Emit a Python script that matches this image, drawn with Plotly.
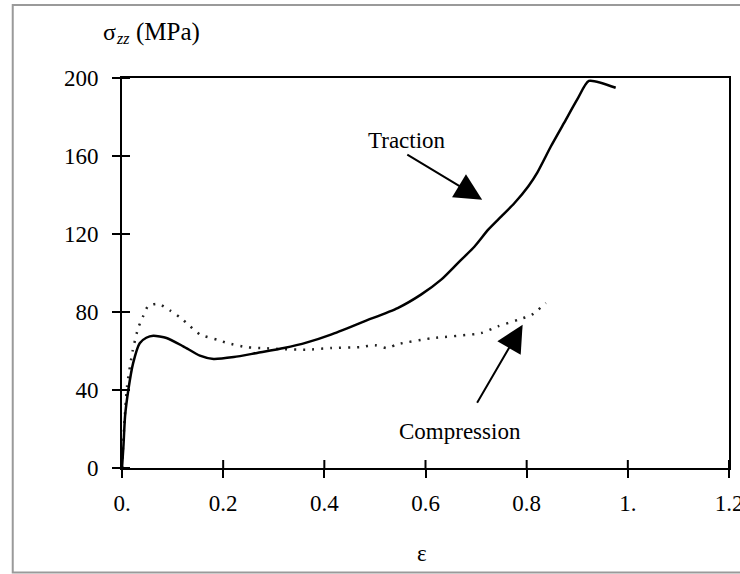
import plotly.graph_objects as go

# Traction (solid) curve
eps_traction = [0, 0.003, 0.006, 0.0125, 0.022, 0.035, 0.048, 0.062, 0.088, 0.121, 0.154,
                0.181, 0.221, 0.267, 0.320, 0.366, 0.413, 0.479, 0.545, 0.591, 0.631,
                0.664, 0.697, 0.724, 0.750, 0.776, 0.803, 0.821, 0.848, 0.874, 0.900,
                0.923, 0.976]
sig_traction = [0, 12, 26.5, 40, 53.8, 64, 66.8, 67.8, 66.7, 62.4, 57.6,
                55.9, 56.9, 59, 61.5, 64.4, 68.4, 75.2, 82, 88.9, 96.6,
                105.1, 113.6, 122.2, 129, 135.9, 144.4, 151.5, 165, 177, 189,
                198.5, 195]

# Compression (dotted) curve
eps_compression = [0, 0.004, 0.010, 0.021, 0.032, 0.042, 0.052, 0.072, 0.095, 0.115, 0.135,
                   0.155, 0.188, 0.208, 0.247, 0.280, 0.313, 0.366, 0.413, 0.472, 0.500,
                   0.524, 0.545, 0.611, 0.710, 0.743, 0.783, 0.810, 0.838]
sig_compression = [0, 20, 42, 60, 71.8, 78, 83.2, 84.2, 80.8, 77.2, 72.6,
                   68.4, 65.8, 64.1, 61.9, 61.5, 61, 60.7, 61.5, 62, 63,
                   61.5, 63.5, 66.5, 69.2, 72.6, 76, 78.6, 84.6]

x_ticks = [0, 0.2, 0.4, 0.6, 0.8, 1.0, 1.2]
x_ticklabels = ["0.", "0.2", "0.4", "0.6", "0.8", "1.", "1.2"]
y_ticks = [0, 40, 80, 120, 160, 200]
y_ticklabels = ["0", "40", "80", "120", "160", "200"]

FONT = "Liberation Serif, Times New Roman, serif"
FS = 23
TICKLEN = 8

fig = go.Figure()
fig.add_trace(go.Scatter(x=eps_compression, y=sig_compression, mode="lines",
                         line=dict(color="#222", width=2.5, dash="2px,7px",
                                   shape="spline", smoothing=0.6),
                         name="Compression", showlegend=False))
fig.add_trace(go.Scatter(x=eps_traction, y=sig_traction, mode="lines",
                         line=dict(color="black", width=2.5,
                                   shape="spline", smoothing=0.6),
                         name="Traction", showlegend=False))

axis_common = dict(showgrid=False, zeroline=False, linecolor="black", linewidth=2,
                   tickcolor="black", tickwidth=2, automargin=False,
                   ticklabeloverflow="allow",
                   tickfont=dict(family=FONT, size=FS, color="black"))

# inner half of the crossing tick marks (outer half drawn by the axes)
inner_ticks = (
    [dict(type="line", xref="x", yref="y", ysizemode="pixel", yanchor=0,
          x0=v, x1=v, y0=0, y1=TICKLEN, line=dict(color="black", width=2))
     for v in x_ticks]
    + [dict(type="line", xref="x", yref="y", xsizemode="pixel", xanchor=0,
            x0=0, x1=TICKLEN, y0=v, y1=v, line=dict(color="black", width=2))
       for v in y_ticks]
)

frame = dict(type="rect", xref="paper", yref="paper",
             x0=-0.180, x1=1.12, y0=-0.268, y1=1.187,
             line=dict(color="#9a9a9a", width=2), layer="below")

fig.update_layout(
    width=740, height=574,
    margin=dict(l=122, r=11, t=78, b=106),
    paper_bgcolor="white", plot_bgcolor="white",
    xaxis=dict(range=[0, 1.2], tickvals=x_ticks, ticktext=x_ticklabels,
               ticks="outside", ticklen=TICKLEN, showline=True, mirror=True,
               ticklabelstandoff=5, **axis_common),
    yaxis=dict(range=[0, 200], tickvals=y_ticks, ticktext=y_ticklabels,
               ticks="outside", ticklen=TICKLEN, showline=True, mirror=True,
               ticklabelstandoff=9, **axis_common),
    shapes=[frame] + inner_ticks,
)

annotations = [
    # y-axis title: sigma, italic subscript zz, unit
    dict(text="σ", xref="paper", yref="paper", x=-0.0203, y=1.1167,
         xanchor="center", yanchor="middle", showarrow=False,
         font=dict(family=FONT, size=24, color="black")),
    dict(text="<i>zz</i>", xref="paper", yref="paper", x=0.0021, y=1.1018,
         xanchor="center", yanchor="middle", showarrow=False,
         font=dict(family=FONT, size=16, color="black")),
    dict(text="(MPa)", xref="paper", yref="paper", x=0.075, y=1.1167,
         xanchor="center", yanchor="middle", showarrow=False,
         font=dict(family=FONT, size=25, color="black")),
    dict(text="ε", xref="paper", yref="paper", x=0.495, y=-0.218,
         xanchor="center", yanchor="middle", showarrow=False,
         font=dict(family=FONT, size=FS, color="black")),
    # Traction label with arrow: tail just below the label
    dict(text="Traction", x=0.712, y=137.6, ax=0.564, ay=160.7, xref="x", yref="y",
         axref="x", ayref="y", xanchor="center", yanchor="bottom",
         showarrow=True, arrowhead=2, arrowsize=2.7, arrowwidth=2,
         arrowcolor="black", standoff=0,
         font=dict(family=FONT, size=FS, color="black")),
    # Compression label with arrow, gap between label and arrow tail
    dict(text="Compression", x=0.792, y=73.5, ax=0.669, ay=18.8, xref="x", yref="y",
         axref="x", ayref="y", xanchor="center", yanchor="middle",
         showarrow=True, arrowhead=2, arrowsize=2.7, arrowwidth=2,
         arrowcolor="black", standoff=0, startstandoff=17,
         font=dict(family=FONT, size=FS, color="black")),
]
fig.update_layout(annotations=annotations)

fig.write_html("out.html")
